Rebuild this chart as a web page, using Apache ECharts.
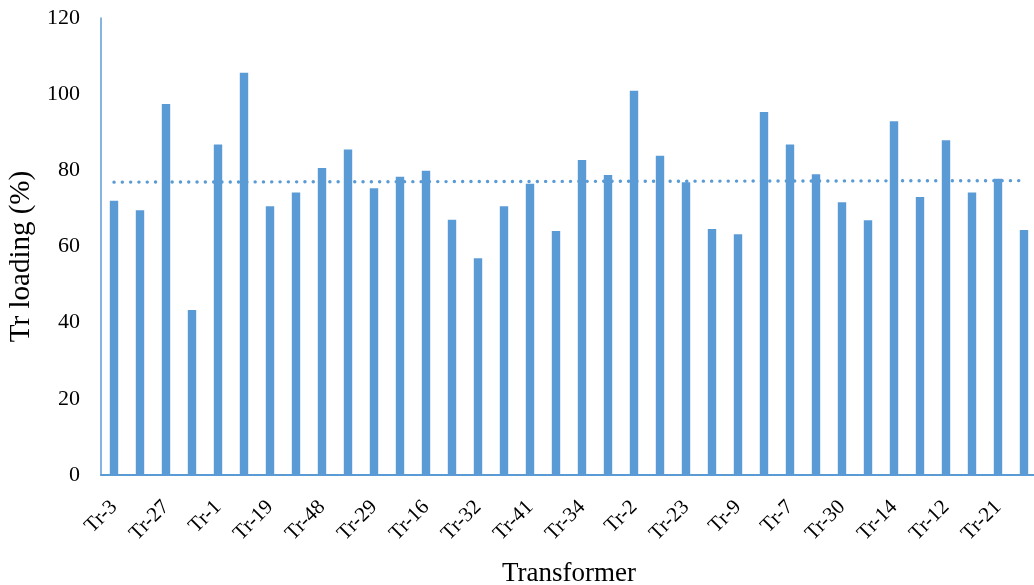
<!DOCTYPE html>
<html>
<head>
<meta charset="utf-8">
<script src="https://cdn.jsdelivr.net/npm/echarts@6/dist/echarts.min.js"></script>
<style>
  html, body { margin: 0; padding: 0; background: #fff; }
  #chart { width: 1034px; height: 585px; }
</style>
</head>
<body>
<div id="chart"></div>
<script>
// Transformer names; only every other one is printed on the axis
const categories = [
  'Tr-3', '', 'Tr-27', '', 'Tr-1', '', 'Tr-19', '', 'Tr-48', '',
  'Tr-29', '', 'Tr-16', '', 'Tr-32', '', 'Tr-41', '', 'Tr-34', '',
  'Tr-2', '', 'Tr-23', '', 'Tr-9', '', 'Tr-7', '', 'Tr-30', '',
  'Tr-14', '', 'Tr-12', '', 'Tr-21', ''
];

// Transformer loading in percent
const loading = [
  72.0, 69.5, 97.4, 43.3, 86.8, 105.6, 70.6, 74.2, 80.6, 85.5,
  75.3, 78.3, 79.9, 67.0, 56.9, 70.6, 76.5, 64.1, 82.7, 78.8,
  100.9, 83.8, 76.9, 64.6, 63.2, 95.3, 86.8, 79.0, 71.6, 66.9,
  92.9, 73.0, 87.9, 74.2, 77.8, 64.3
];

// Linear trend line end points (first and last transformer)
const trendStart = 76.9;
const trendEnd = 77.3;

const yTicks = { min: 0, max: 120, step: 20 };

const blue = '#5B9BD5';
const serif = '"Liberation Serif", "Times New Roman", serif';

const chart = echarts.init(document.getElementById('chart'), null, { renderer: 'canvas' });

chart.setOption({
  animation: false,
  backgroundColor: '#fff',
  grid: {
    left: 101, right: -3, top: 18, bottom: 110,
    containLabel: false,
    outerBoundsMode: 'none'
  },
  xAxis: [
    {
      type: 'category',
      data: categories,
      boundaryGap: true,
      name: 'Transformer',
      nameLocation: 'middle',
      nameGap: 85,
      nameTextStyle: { fontFamily: serif, fontSize: 27, color: '#000' },
      axisLine: { show: true, lineStyle: { color: blue, width: 2 } },
      axisTick: { show: false },
      axisLabel: {
        interval: 0,
        rotate: 45,
        margin: 29,
        fontFamily: serif,
        fontSize: 21,
        color: '#000'
      },
      splitLine: { show: false }
    },
    {
      // helper scale for the trend line, one unit per transformer
      type: 'value',
      min: -0.5,
      max: categories.length - 0.5,
      show: false
    }
  ],
  yAxis: {
    type: 'value',
    min: yTicks.min,
    max: yTicks.max,
    interval: yTicks.step,
    name: 'Tr loading (%)',
    nameLocation: 'middle',
    nameGap: 60,
    nameRotate: 90,
    nameTextStyle: { fontFamily: serif, fontSize: 29, color: '#000', padding: [0, 20, 0, 0] },
    axisLine: { show: true, onZero: false, lineStyle: { color: blue, width: 1.5 } },
    axisTick: { show: false },
    axisLabel: { margin: 21, fontFamily: serif, fontSize: 22, color: '#000' },
    splitLine: { show: false }
  },
  series: [
    {
      type: 'bar',
      data: loading,
      barWidth: 8.4,
      itemStyle: { color: blue },
      xAxisIndex: 0
    },
    {
      type: 'line',
      xAxisIndex: 1,
      data: [[0, trendStart], [categories.length - 1, trendEnd]],
      symbol: 'none',
      z: 5,
      lineStyle: {
        color: blue,
        width: 3.4,
        type: [0.1, 8.2],
        cap: 'round'
      }
    }
  ]
});
</script>
</body>
</html>
